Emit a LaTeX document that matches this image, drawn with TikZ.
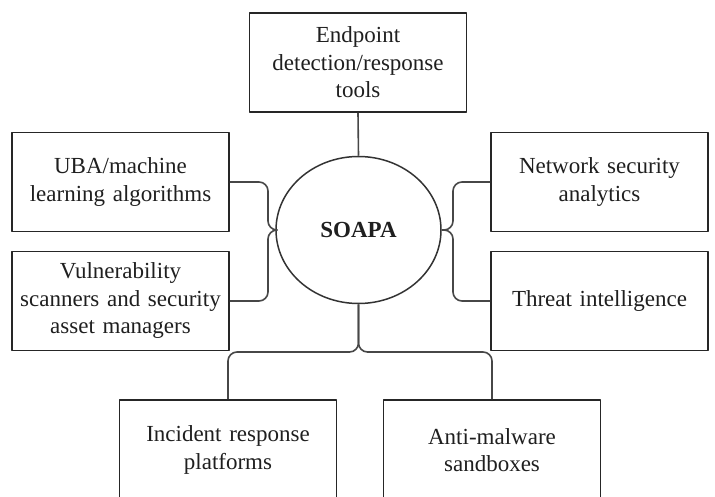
\documentclass[tikz,border=0pt]{standalone}
\usepackage{fontspec}
\setmainfont{Liberation Serif}
\usetikzlibrary{shapes.geometric}
\tikzset{every picture/.style={line join=round}}
\tikzset{
    topic/.style={draw=black!85, line width=1.6pt, minimum width=217pt,
        minimum height=99pt, text width=210pt, align=center, inner sep=0pt},
    hub/.style={draw=black!80, line width=1.5pt, ellipse, minimum width=165pt,
        minimum height=147pt, inner sep=0pt,
        font=\fontsize{23}{27.5}\selectfont\bfseries},
    link/.style={draw=black!72, line width=1.6pt, rounded corners=9pt}
}

\begin{document}
\begin{tikzpicture}[
    x=1pt, y=-1pt,
    every node/.style={font=\fontsize{23}{27.5}\selectfont, text=black!88}
]
    \useasboundingbox (0,0) rectangle (715,497);
    \clip (0,0) rectangle (715,497);

    % centre
    \node[hub] (soapa) at (358.5,230) {SOAPA};

    % boxes round it
    \node[topic] (edr) at (358,62.5) {Endpoint\\ detection/response\\ tools};
    \node[topic] (uba) at (120.5,182) {UBA/machine\\ learning algorithms};
    \node[topic] (vuln) at (120.5,301) {Vulnerability\\ scanners and security\\ asset managers};
    \node[topic] (nsa) at (599.5,182) {Network security\\ analytics};
    \node[topic] (ti) at (599.5,301) {Threat intelligence};
    \node[topic, minimum height=100pt] (irp) at (228,450) {Incident response\\ platforms};
    \node[topic, minimum height=100pt] (ams) at (492,450) {Anti-malware\\ sandboxes};

    % joints of the links
    \coordinate (jl) at (268,230);
    \coordinate (jr) at (453,230);
    \coordinate (jb) at (358.5,352);

    % links
    \draw[link] (edr.south) -- (soapa.north);
    \draw[link] (uba.east) -| (jl) -- (soapa.west);
    \draw[link] (vuln.east) -| (jl) -- (soapa.west);
    \draw[link] (nsa.west) -| (jr) -- (soapa.east);
    \draw[link] (ti.west) -| (jr) -- (soapa.east);
    \draw[link] (soapa.south) -- (jb) -| (irp.north);
    \draw[link] (soapa.south) -- (jb) -| (ams.north);
\end{tikzpicture}
\end{document}
